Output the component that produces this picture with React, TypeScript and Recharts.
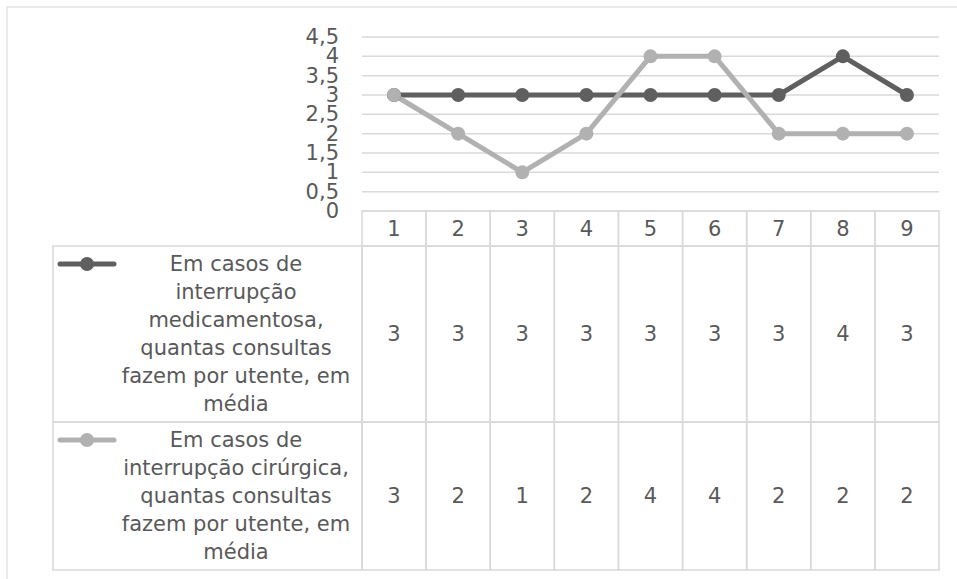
import React from 'react';
import { LineChart, Line, XAxis, YAxis, CartesianGrid, Customized } from 'recharts';

// categories (table header) and the two series
const categories = ['1', '2', '3', '4', '5', '6', '7', '8', '9'];
const medicamentosa = [3, 3, 3, 3, 3, 3, 3, 4, 3];
const cirurgica = [3, 2, 1, 2, 4, 4, 2, 2, 2];
const yTicks = [0, 0.5, 1, 1.5, 2, 2.5, 3, 3.5, 4, 4.5];

// legend text, wrapped the way the data table shows it
const seriesLines = [
  ['Em casos de', 'interrupção', 'medicamentosa,', 'quantas consultas', 'fazem por utente, em', 'média'],
  ['Em casos de', 'interrupção cirúrgica,', 'quantas consultas', 'fazem por utente, em', 'média'],
];
const seriesColors = ['#5f5f5f', '#b1b1b1'];

const W = 957;
const H = 579;
const PLOT_LEFT = 362;
const PLOT_RIGHT = 939;
const PLOT_TOP = 37;
const PLOT_BOTTOM = 211;
const COL_W = (PLOT_RIGHT - PLOT_LEFT) / categories.length;
const HEADER_H = 35;
const ROW_H = [176, 148];
const LEGEND_LEFT = 53;
const LINE_H = 28;
const FONT = '"DejaVu Sans", sans-serif';
const TEXT = '#595959';
const BORDER = '#d9d9d9';

const chartData = categories.map((c, i) => ({
  name: c,
  med: medicamentosa[i],
  cir: cirurgica[i],
}));

const seriesValues = [medicamentosa, cirurgica];

const fmt = (v: number) => String(v).replace('.', ',');

const YTick = (props: any) => {
  const { y, payload } = props;
  return (
    <text x={PLOT_LEFT - 23} y={y} textAnchor="end" dominantBaseline="central"
      fontFamily={FONT} fontSize={21} fill={TEXT}>
      {fmt(payload.value)}
    </text>
  );
};

// each category tick draws its own column of the data table
const TableColumn = (props: any) => {
  const { x, y, payload, index } = props;
  const left = x - COL_W / 2;
  let top = y;
  const cells: React.ReactNode[] = [];
  cells.push(
    <g key="h">
      <rect x={left} y={top} width={COL_W} height={HEADER_H} fill="none" stroke={BORDER} strokeWidth={1.5} />
      <text x={x} y={top + HEADER_H / 2} textAnchor="middle" dominantBaseline="central"
        fontFamily={FONT} fontSize={21} fill={TEXT}>{payload.value}</text>
    </g>
  );
  top += HEADER_H;
  seriesValues.forEach((vals, s) => {
    cells.push(
      <g key={s}>
        <rect x={left} y={top} width={COL_W} height={ROW_H[s]} fill="none" stroke={BORDER} strokeWidth={1.5} />
        <text x={x} y={top + ROW_H[s] / 2} textAnchor="middle" dominantBaseline="central"
          fontFamily={FONT} fontSize={21} fill={TEXT}>{vals[index]}</text>
      </g>
    );
    top += ROW_H[s];
  });
  return <g>{cells}</g>;
};

const LegendCells = () => {
  let top = PLOT_BOTTOM + HEADER_H;
  const textX = 236;
  return (
    <g>
      <rect x={7} y={7} width={W} height={H} fill="none" stroke="#e3e3e3" strokeWidth={1.5} />
      {seriesLines.map((lines, s) => {
        const rowTop = top;
        top += ROW_H[s];
        const firstY = rowTop + ROW_H[s] / 2 - ((lines.length - 1) * LINE_H) / 2;
        return (
          <g key={s}>
            <rect x={LEGEND_LEFT} y={rowTop} width={PLOT_LEFT - LEGEND_LEFT} height={ROW_H[s]}
              fill="none" stroke={BORDER} strokeWidth={1.5} />
            <line x1={60} x2={114} y1={firstY} y2={firstY} stroke={seriesColors[s]} strokeWidth={5} strokeLinecap="round" />
            <circle cx={87} cy={firstY} r={7} fill={seriesColors[s]} />
            {lines.map((t, i) => (
              <text key={i} x={textX} y={firstY + i * LINE_H} textAnchor="middle" dominantBaseline="central"
                fontFamily={FONT} fontSize={21} fill={TEXT}>{t}</text>
            ))}
          </g>
        );
      })}
    </g>
  );
};

export default function App() {
  return (
    <div style={{ position: 'absolute', left: 0, top: 0, background: '#fff' }}>
      <LineChart width={W} height={H} data={chartData}
        margin={{ top: PLOT_TOP, right: W - PLOT_RIGHT, bottom: 0, left: 0 }}>
        <CartesianGrid vertical={false} stroke={BORDER} strokeWidth={1.5} />
        <XAxis dataKey="name" height={H - PLOT_BOTTOM} interval={0} axisLine={false} tickLine={false}
          tickSize={0} tickMargin={0} padding={{ left: COL_W / 2, right: COL_W / 2 }} tick={<TableColumn />} />
        <YAxis width={PLOT_LEFT} domain={[0, 4.5]} ticks={yTicks} interval={0} axisLine={false}
          tickLine={false} tick={<YTick />} />
        <Customized component={LegendCells} />
        <Line dataKey="med" stroke={seriesColors[0]} strokeWidth={5} isAnimationActive={false}
          dot={{ r: 7, fill: seriesColors[0], stroke: 'none' }} activeDot={false} />
        <Line dataKey="cir" stroke={seriesColors[1]} strokeWidth={5} isAnimationActive={false}
          dot={{ r: 7, fill: seriesColors[1], stroke: 'none' }} activeDot={false} />
      </LineChart>
    </div>
  );
}
